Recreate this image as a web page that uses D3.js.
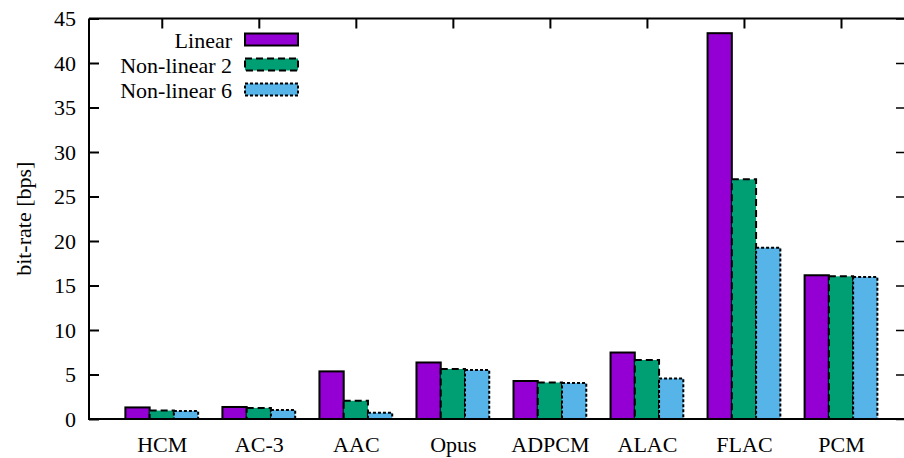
<!DOCTYPE html>
<html>
<head>
<meta charset="utf-8">
<script src="https://cdn.jsdelivr.net/npm/d3@7"></script>
<style>
  html, body { margin: 0; padding: 0; background: #fff; }
  svg { display: block; }
  svg text {
    font-family: "Liberation Serif", "Times New Roman", Times, Tinos, "Nimbus Roman", "Noto Serif", "DejaVu Serif", serif !important;
    font-size: 22px;
    fill: #000;
  }
</style>
</head>
<body>
<svg id="chart" width="904" height="458"></svg>
<script>
// Codecs along the x axis
const categories = ["HCM", "AC-3", "AAC", "Opus", "ADPCM", "ALAC", "FLAC", "PCM"];

// Bit-rate per codec for each quantiser variant
const linear     = [1.3, 1.35, 5.35, 6.35, 4.27, 7.47, 43.35, 16.15];
const nonLinear2 = [0.95, 1.25, 2.05, 5.62, 4.1, 6.63, 26.93, 16.03];
const nonLinear6 = [0.9, 1.0, 0.7, 5.5, 4.04, 4.55, 19.25, 15.96];

const seriesNames = ["Linear", "Non-linear 2", "Non-linear 6"];
const yTicks = [0, 5, 10, 15, 20, 25, 30, 35, 40, 45];

const series = [
  { name: seriesNames[0], values: linear,     fill: "#9400d3", dash: null,  offset: -0.25 },
  { name: seriesNames[1], values: nonLinear2, fill: "#009e73", dash: "7,4", offset: 0 },
  { name: seriesNames[2], values: nonLinear6, fill: "#56b4e9", dash: "3,2", offset: 0.25 }
];

const svg = d3.select("#chart");

const plotLeft = 89, plotRight = 906, plotTop = 18.5, plotBottom = 419;
const x = d3.scaleLinear().domain([-0.75, 7.67]).range([plotLeft, plotRight]);
const y = d3.scaleLinear().domain([0, 45]).range([plotBottom, plotTop]);
const boxWidth = 0.25;
const tickLen = 10;

// Bars, drawn one series at a time
series.forEach(s => {
  svg.append("g")
    .selectAll("rect")
    .data(s.values)
    .join("rect")
    .attr("x", (d, i) => x(i + s.offset - boxWidth / 2))
    .attr("width", x(boxWidth) - x(0))
    .attr("y", d => y(d))
    .attr("height", d => y(0) - y(d))
    .attr("fill", s.fill)
    .attr("stroke", "#000")
    .attr("stroke-width", 2)
    .attr("stroke-dasharray", s.dash);
});

// Frame: left, top, bottom and right borders
const frame = svg.append("g").attr("stroke", "#000").attr("stroke-width", 2).attr("fill", "none");
frame.append("path").attr("d", `M${plotLeft},${plotTop}V${plotBottom}H${plotRight}`);
frame.append("path").attr("d", `M${plotLeft},${plotTop}H${plotRight}`);
frame.append("path").attr("d", `M${plotRight},${plotTop}V${plotBottom}`);

// Left y axis (ticks inward) with labels
const yAxis = d3.axisLeft(y).tickValues(yTicks).tickSize(-tickLen).tickPadding(13).tickFormat(d3.format("d"));
const gy = svg.append("g").attr("transform", `translate(${plotLeft},0)`).call(yAxis);
gy.select(".domain").remove();
gy.selectAll(".tick line").attr("stroke", "#000").attr("stroke-width", 2);
gy.selectAll(".tick text").attr("dy", "0.34em");

// Mirrored y ticks on the right
const yAxisR = d3.axisRight(y).tickValues(yTicks).tickSize(-tickLen).tickFormat("");
const gyr = svg.append("g").attr("transform", `translate(${plotRight},0)`).call(yAxisR);
gyr.select(".domain").remove();
gyr.selectAll(".tick line").attr("stroke", "#000").attr("stroke-width", 1.5);

// Category ticks on the top border
const xIdx = categories.map((c, i) => i);
const xAxisTop = d3.axisTop(x).tickValues(xIdx).tickSize(-tickLen).tickFormat("");
const gxt = svg.append("g").attr("transform", `translate(0,${plotTop})`).call(xAxisTop);
gxt.select(".domain").remove();
gxt.selectAll(".tick line").attr("stroke", "#000").attr("stroke-width", 2);

// Category labels below the plot
const xAxis = d3.axisBottom(x).tickValues(xIdx).tickSize(0).tickPadding(17).tickFormat(i => categories[i]);
const gx = svg.append("g").attr("transform", `translate(0,${plotBottom})`).call(xAxis);
gx.select(".domain").remove();

// Y axis title
svg.append("text")
  .attr("transform", `translate(31,${(plotTop + plotBottom) / 2}) rotate(-90)`)
  .attr("text-anchor", "middle")
  .text("bit-rate [bps]");

// Legend
const legend = svg.append("g");
series.forEach((s, i) => {
  const cy = 39.5 + i * 25;
  legend.append("text")
    .attr("x", 232)
    .attr("y", cy + 8)
    .attr("text-anchor", "end")
    .text(s.name);
  legend.append("rect")
    .attr("x", 245)
    .attr("y", cy - 6)
    .attr("width", 53)
    .attr("height", 12)
    .attr("fill", s.fill)
    .attr("stroke", "#000")
    .attr("stroke-width", 2)
    .attr("stroke-dasharray", s.dash);
});
</script>
</body>
</html>
